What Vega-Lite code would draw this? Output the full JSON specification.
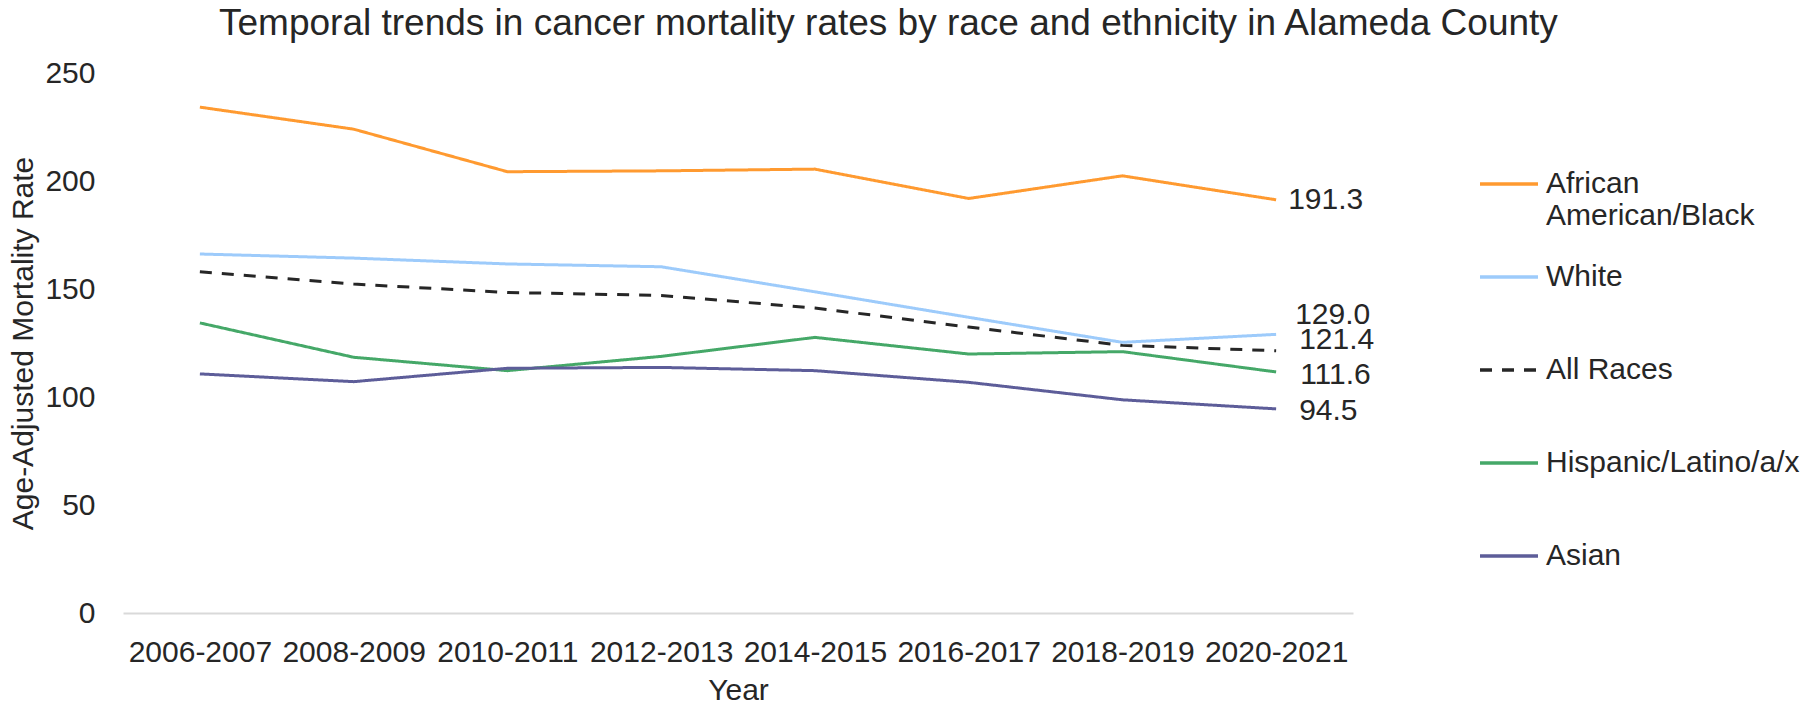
{
  "$schema": "https://vega.github.io/schema/vega-lite/v6.json",
  "width": 1230,
  "height": 540,
  "autosize": {"type": "none"},
  "padding": {"left": 123, "top": 73, "right": 454, "bottom": 96},
  "background": "white",
  "config": {"view": {"stroke": null}, "font": "Liberation Sans"},
  "title": {
    "text": "Temporal trends in cancer mortality rates by race and ethnicity in Alameda County",
    "anchor": "start",
    "frame": "group",
    "dx": 96,
    "offset": 15,
    "fontSize": 37,
    "fontWeight": "normal",
    "color": "#262626"
  },
  "data": {
    "values": [
      {"race": "African American/Black", "year": "2006-2007", "rate": 234.2},
      {"race": "African American/Black", "year": "2008-2009", "rate": 224.0},
      {"race": "African American/Black", "year": "2010-2011", "rate": 204.3},
      {"race": "African American/Black", "year": "2012-2013", "rate": 204.7},
      {"race": "African American/Black", "year": "2014-2015", "rate": 205.5},
      {"race": "African American/Black", "year": "2016-2017", "rate": 191.9},
      {"race": "African American/Black", "year": "2018-2019", "rate": 202.4},
      {"race": "African American/Black", "year": "2020-2021", "rate": 191.3},
      {"race": "White", "year": "2006-2007", "rate": 166.2},
      {"race": "White", "year": "2008-2009", "rate": 164.3},
      {"race": "White", "year": "2010-2011", "rate": 161.6},
      {"race": "White", "year": "2012-2013", "rate": 160.3},
      {"race": "White", "year": "2014-2015", "rate": 148.7},
      {"race": "White", "year": "2016-2017", "rate": 136.9},
      {"race": "White", "year": "2018-2019", "rate": 125.3},
      {"race": "White", "year": "2020-2021", "rate": 129.0},
      {"race": "All Races", "year": "2006-2007", "rate": 158.0},
      {"race": "All Races", "year": "2008-2009", "rate": 152.3},
      {"race": "All Races", "year": "2010-2011", "rate": 148.4},
      {"race": "All Races", "year": "2012-2013", "rate": 147.0},
      {"race": "All Races", "year": "2014-2015", "rate": 141.2},
      {"race": "All Races", "year": "2016-2017", "rate": 132.4},
      {"race": "All Races", "year": "2018-2019", "rate": 123.9},
      {"race": "All Races", "year": "2020-2021", "rate": 121.4},
      {"race": "Hispanic/Latino/a/x", "year": "2006-2007", "rate": 134.3},
      {"race": "Hispanic/Latino/a/x", "year": "2008-2009", "rate": 118.4},
      {"race": "Hispanic/Latino/a/x", "year": "2010-2011", "rate": 112.2},
      {"race": "Hispanic/Latino/a/x", "year": "2012-2013", "rate": 118.8},
      {"race": "Hispanic/Latino/a/x", "year": "2014-2015", "rate": 127.6},
      {"race": "Hispanic/Latino/a/x", "year": "2016-2017", "rate": 119.9},
      {"race": "Hispanic/Latino/a/x", "year": "2018-2019", "rate": 121.0},
      {"race": "Hispanic/Latino/a/x", "year": "2020-2021", "rate": 111.6},
      {"race": "Asian", "year": "2006-2007", "rate": 110.7},
      {"race": "Asian", "year": "2008-2009", "rate": 107.1},
      {"race": "Asian", "year": "2010-2011", "rate": 113.3},
      {"race": "Asian", "year": "2012-2013", "rate": 113.7},
      {"race": "Asian", "year": "2014-2015", "rate": 112.2},
      {"race": "Asian", "year": "2016-2017", "rate": 106.8},
      {"race": "Asian", "year": "2018-2019", "rate": 98.7},
      {"race": "Asian", "year": "2020-2021", "rate": 94.5}
    ]
  },
  "encoding": {
    "x": {
      "field": "year",
      "type": "ordinal",
      "scale": {"type": "point", "padding": 0.5},
      "axis": {
        "title": "Year",
        "labelAngle": 0,
        "labelFontSize": 30,
        "labelColor": "#262626",
        "labelPadding": 24,
        "labelOverlap": false,
        "labelLimit": 300,
        "ticks": false,
        "tickSize": 0,
        "domainColor": "#D9D9D9",
        "domainWidth": 2,
        "titleFontSize": 30,
        "titleFontWeight": "normal",
        "titleColor": "#262626",
        "titlePadding": 8
      }
    },
    "y": {
      "field": "rate",
      "type": "quantitative",
      "scale": {"domain": [0, 250], "nice": false},
      "axis": {
        "title": "Age-Adjusted Mortality Rate",
        "values": [0, 50, 100, 150, 200, 250],
        "grid": false,
        "domain": false,
        "ticks": false,
        "tickSize": 0,
        "labelFontSize": 30,
        "labelColor": "#262626",
        "labelPadding": 28,
        "titleFontSize": 30,
        "titleFontWeight": "normal",
        "titleColor": "#262626",
        "titlePadding": 6
      }
    }
  },
  "layer": [
    {
      "mark": {"type": "line", "strokeWidth": 3},
      "encoding": {
        "color": {
          "field": "race",
          "type": "nominal",
          "title": null,
          "scale": {
            "domain": ["African American/Black", "White", "All Races", "Hispanic/Latino/a/x", "Asian"],
            "range": ["#FF9A30", "#9DCBFB", "#262626", "#45A868", "#5D5D99"]
          },
          "legend": {
            "orient": "none",
            "legendX": 1355,
            "legendY": 80,
            "symbolType": "stroke",
            "symbolSize": 3364,
            "symbolStrokeWidth": 3.5,
            "labelFontSize": 30,
            "labelColor": "#262626",
            "labelOffset": 6,
            "labelLimit": 400,
            "labelBaseline": "alphabetic",
            "labelExpr": "datum.label == 'African American/Black' ? ['African', 'American/Black'] : [datum.label, '']",
            "rowPadding": 15,
            "padding": 0,
            "encoding": {"labels": {"dy": {"value": 9}}}
          }
        },
        "strokeDash": {
          "field": "race",
          "type": "nominal",
          "title": null,
          "scale": {
            "domain": ["African American/Black", "White", "All Races", "Hispanic/Latino/a/x", "Asian"],
            "range": [[1, 0], [1, 0], [12, 10], [1, 0], [1, 0]]
          }
        }
      }
    },
    {
      "transform": [{"filter": "datum.year == '2020-2021' && datum.race == 'African American/Black'"}],
      "mark": {"type": "text", "align": "left", "baseline": "middle", "dx": 12, "dy": 0, "fontSize": 30, "color": "#262626"},
      "encoding": {"text": {"field": "rate", "type": "quantitative", "format": ".1f"}}
    },
    {
      "transform": [{"filter": "datum.year == '2020-2021' && datum.race == 'White'"}],
      "mark": {"type": "text", "align": "left", "baseline": "middle", "dx": 19, "dy": -19, "fontSize": 30, "color": "#262626"},
      "encoding": {"text": {"field": "rate", "type": "quantitative", "format": ".1f"}}
    },
    {
      "transform": [{"filter": "datum.year == '2020-2021' && datum.race == 'All Races'"}],
      "mark": {"type": "text", "align": "left", "baseline": "middle", "dx": 23, "dy": -11, "fontSize": 30, "color": "#262626"},
      "encoding": {"text": {"field": "rate", "type": "quantitative", "format": ".1f"}}
    },
    {
      "transform": [{"filter": "datum.year == '2020-2021' && datum.race == 'Hispanic/Latino/a/x'"}],
      "mark": {"type": "text", "align": "left", "baseline": "middle", "dx": 24, "dy": 3, "fontSize": 30, "color": "#262626"},
      "encoding": {"text": {"field": "rate", "type": "quantitative", "format": ".1f"}}
    },
    {
      "transform": [{"filter": "datum.year == '2020-2021' && datum.race == 'Asian'"}],
      "mark": {"type": "text", "align": "left", "baseline": "middle", "dx": 23, "dy": 2, "fontSize": 30, "color": "#262626"},
      "encoding": {"text": {"field": "rate", "type": "quantitative", "format": ".1f"}}
    }
  ]
}
